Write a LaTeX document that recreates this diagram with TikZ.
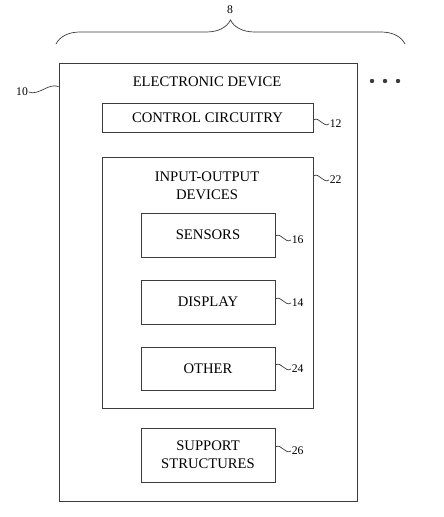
\documentclass[tikz,border=0pt]{standalone}
\usepackage{fontspec}
\setmainfont{Liberation Serif}
\usepackage{tikz}
\usetikzlibrary{arrows.meta, positioning, calc, decorations.pathreplacing}
\definecolor{inkgray}{RGB}{60, 60, 60}

\begin{document}
\begin{tikzpicture}[x=0.03cm, y=-0.03cm, >=Stealth,
    box/.style={draw=inkgray, line width=0.7pt, inner sep=0pt, align=center,
        font=\fontsize{12.5}{15.3}\selectfont},
    title/.style={inner sep=0pt, align=center, font=\fontsize{12.5}{15.3}\selectfont},
    refnum/.style={inner sep=0.5pt, font=\fontsize{10}{12}\selectfont},
    lead/.style={draw=inkgray, line width=0.6pt}]
    \useasboundingbox (0,0) rectangle (443,517);
    % overall device box
    \node[box, minimum width=8.94cm, minimum height=13.14cm] (dev) at (208,282) {};
    \node[title] (devtitle) at (207,82) {ELECTRONIC DEVICE};
    \node[box, minimum width=6.33cm, minimum height=0.87cm] (ctrl) at (207.5,117.5) {CONTROL CIRCUITRY};
    % input-output devices
    \node[box, minimum width=6.33cm, minimum height=7.53cm] (io) at (207.5,282.5) {};
    \node[title] (iotitle) at (207,186) {INPUT-OUTPUT\\DEVICES};
    \node[box, minimum width=4.02cm, minimum height=1.32cm] (sens) at (208,235) {SENSORS};
    \node[box, minimum width=4.02cm, minimum height=1.32cm] (disp) at (208,302) {DISPLAY};
    \node[box, minimum width=4.02cm, minimum height=1.29cm] (other) at (208,368.5) {OTHER};
    \node[box, minimum width=4.02cm, minimum height=1.62cm] (supp) at (208,455) {SUPPORT\\STRUCTURES};
    % reference numerals
    \node[refnum] (l10) at (22,92) {10};
    \node[refnum, anchor=west] (l12) at (329,124) {12};
    \node[refnum, anchor=west] (l22) at (329,180) {22};
    \node[refnum, anchor=west] (l16) at (291,240) {16};
    \node[refnum, anchor=west] (l14) at (291,303) {14};
    \node[refnum, anchor=west] (l24) at (291,369) {24};
    \node[refnum, anchor=west] (l26) at (291,451) {26};
    \node[refnum] (l8) at (230,10) {8};
    % leaders
    \draw[lead] (l10.east) .. controls +(10,4) and +(-10,-4) .. ($(dev.north west)+(0,24)$);
    \foreach \b/\l in {ctrl/l12, io/l22, sens/l16, disp/l14, other/l24, supp/l26}
        \draw[lead] ($(\b.east |- \l.west)+(0,-4)$) .. controls +(6,-4) and +(-6,4) .. (\l.west);
    % brace over the devices
    \draw[lead, decorate, decoration={brace, amplitude=0.72cm, aspect=0.5}]
        (56,44) -- (405,44);
    \foreach \x in {372,385,398}
        \fill[inkgray] (\x,81) circle (2.2);
\end{tikzpicture}
\end{document}
